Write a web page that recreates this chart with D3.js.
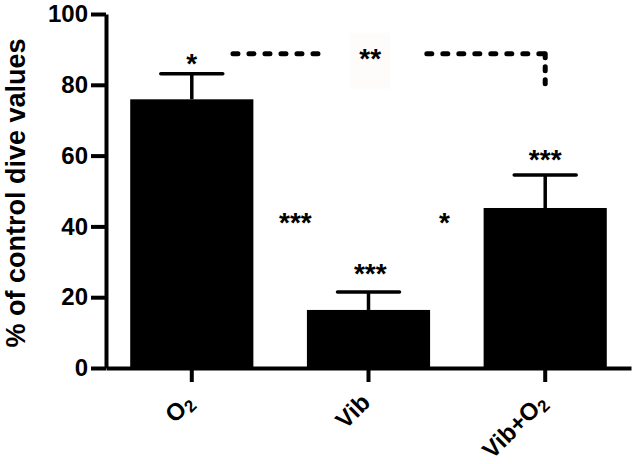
<!DOCTYPE html>
<html>
<head>
<meta charset="utf-8">
<script src="https://cdn.jsdelivr.net/npm/d3@7"></script>
<style>
  body { margin: 0; background: #fff; }
  svg { display: block; }
</style>
</head>
<body>
<div id="chart"></div>
<script>
// data
var categories = ["O2", "Vib", "Vib+O2"];
var means = [75.9, 16.4, 45.2];
var sems = [7.2, 5.1, 9.3];
var yTicks = [0, 20, 40, 60, 80, 100];

// significance marks: text, position along categories (0 = first bar), value height
var starText = ["*", "**", "***", "*", "***", "***"];
var starPos = [0, 1.01, 0.586, 1.43, 1.01, 2];
var starVal = [87.5, 88.8, 42.4, 42.4, 28.2, 60.2];

// dashed comparison bracket
var bracketSegs = [[0.233, 0.73], [1.33, 2.0]];
var bracketVal = 88.8;
var bracketDrop = 80;

var w = 638, h = 464;
var fontFamily = "'Liberation Sans', Arial, sans-serif";

var svg = d3.select("#chart").append("svg")
    .attr("width", w)
    .attr("height", h);

var x = d3.scaleBand()
    .domain(categories)
    .range([106, 631])
    .paddingInner(0.303)
    .paddingOuter(0.137);

var y = d3.scaleLinear()
    .domain([0, 100])
    .range([368, 14]);

// continuous position between bar centres
var pos = d3.scaleLinear()
    .domain([0, categories.length - 1])
    .range([x(categories[0]) + x.bandwidth() / 2,
            x(categories[categories.length - 1]) + x.bandwidth() / 2]);

// very faint box behind the ** mark (as in the source image)
svg.append("rect")
    .attr("x", pos(1.01) - 21)
    .attr("y", y(bracketVal) - 21)
    .attr("width", 41)
    .attr("height", 56)
    .style("fill", "#fefbfb");

// bars
svg.selectAll(".bar")
    .data(categories)
    .enter()
    .append("rect")
    .attr("class", "bar")
    .attr("x", function(d) { return x(d); })
    .attr("y", function(d, i) { return y(means[i]); })
    .attr("width", x.bandwidth())
    .attr("height", function(d, i) { return y(0) - y(means[i]); })
    .style("fill", "#000");

// error bars (upper only)
var eb = svg.selectAll(".err")
    .data(categories)
    .enter()
    .append("g")
    .attr("class", "err");

eb.append("line")
    .attr("x1", function(d) { return x(d) + x.bandwidth() / 2; })
    .attr("x2", function(d) { return x(d) + x.bandwidth() / 2; })
    .attr("y1", function(d, i) { return y(means[i]); })
    .attr("y2", function(d, i) { return y(means[i] + sems[i]); })
    .style("stroke", "#000")
    .style("stroke-width", 3.5);

eb.append("line")
    .attr("x1", function(d) { return x(d) + x.bandwidth() / 2 - 31; })
    .attr("x2", function(d) { return x(d) + x.bandwidth() / 2 + 31; })
    .attr("y1", function(d, i) { return y(means[i] + sems[i]); })
    .attr("y2", function(d, i) { return y(means[i] + sems[i]); })
    .style("stroke", "#000")
    .style("stroke-width", 3.5)
    .style("stroke-linecap", "round");

// y axis
var yAxis = svg.append("g")
    .attr("transform", "translate(106,0)")
    .call(d3.axisLeft(y).tickValues(yTicks).tickSize(15).tickPadding(3).tickSizeOuter(0));

yAxis.select(".domain").style("stroke-width", 4);
yAxis.selectAll(".tick line").style("stroke-width", 4);
yAxis.selectAll(".tick text")
    .style("font-family", fontFamily)
    .style("font-weight", "bold")
    .style("font-size", "24px")
    .style("fill", "#000");

// x axis
var xAxis = svg.append("g")
    .attr("transform", "translate(0," + y(0) + ")")
    .call(d3.axisBottom(x).tickSize(14).tickSizeOuter(0));

xAxis.select(".domain").style("stroke-width", 4);
xAxis.selectAll(".tick line").style("stroke-width", 4);
xAxis.selectAll(".tick text").remove();

xAxis.selectAll(".tick").each(function(d) {
  var t = d3.select(this).append("text")
      .attr("transform", "translate(3,36) rotate(-45)")
      .attr("text-anchor", "end")
      .style("font-family", fontFamily)
      .style("font-weight", "bold")
      .style("font-size", "24px")
      .style("fill", "#000");
  var parts = d.split("2");
  t.append("tspan").text(parts[0]);
  if (parts.length > 1) {
    t.append("tspan")
      .attr("dy", 4)
      .style("font-size", "17px")
      .text("2");
  }
});

// y axis title
svg.append("text")
    .attr("transform", "translate(25," + (y(50) + 2) + ") rotate(-90)")
    .attr("text-anchor", "middle")
    .style("font-family", fontFamily)
    .style("font-weight", "bold")
    .style("font-size", "27px")
    .text("% of control dive values");

// dashed bracket
svg.selectAll(".bracket")
    .data(bracketSegs)
    .enter()
    .append("line")
    .attr("class", "bracket")
    .attr("x1", function(d) { return pos(d[0]); })
    .attr("x2", function(d) { return pos(d[1]); })
    .attr("y1", y(bracketVal))
    .attr("y2", y(bracketVal))
    .style("stroke", "#000")
    .style("stroke-width", 5)
    .style("stroke-linecap", "round")
    .style("stroke-dasharray", "5,11");

svg.append("line")
    .attr("x1", pos(bracketSegs[1][1]))
    .attr("x2", pos(bracketSegs[1][1]))
    .attr("y1", y(bracketVal))
    .attr("y2", y(bracketDrop))
    .style("stroke", "#000")
    .style("stroke-width", 5)
    .style("stroke-linecap", "round")
    .style("stroke-dasharray", "4,9");

// stars
var starSize = 28;
svg.selectAll(".star")
    .data(starText)
    .enter()
    .append("text")
    .attr("class", "star")
    .attr("x", function(d, i) { return pos(starPos[i]); })
    .attr("y", function(d, i) { return y(starVal[i]) + 0.52 * starSize; })
    .attr("text-anchor", "middle")
    .style("font-family", fontFamily)
    .style("font-weight", "bold")
    .style("font-size", starSize + "px")
    .text(function(d) { return d; });
</script>
</body>
</html>
